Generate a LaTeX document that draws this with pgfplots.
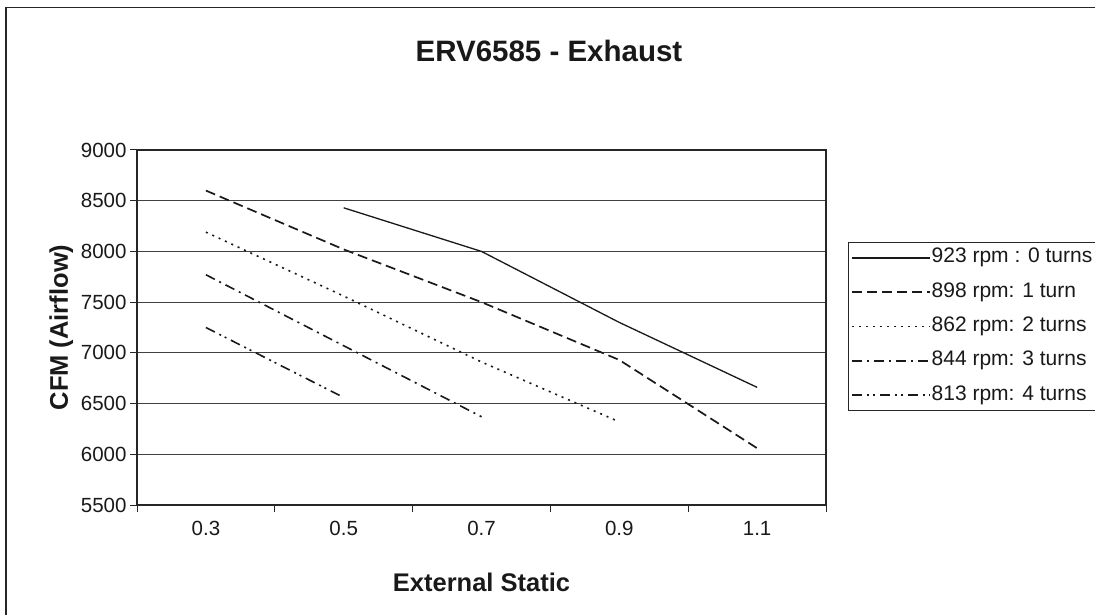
\documentclass[border=0pt]{standalone}
\usepackage{fontspec}
\setmainfont{Liberation Sans}
\usepackage{pgfplots}
\pgfplotsset{compat=1.18}
\begin{document}
\begin{tikzpicture}
\useasboundingbox (0,0) rectangle (1095bp,615bp);
\fill[white] (0,0) rectangle (1095bp,615bp);
\draw[black!85, line width=1.3bp] (6bp,-20bp) rectangle (1120bp,607.5bp);
\begin{axis}[
  at={(137bp,110bp)}, anchor=south west,
  width=689bp, height=355bp, scale only axis,
  xmin=-0.5, xmax=4.5, ymin=5500, ymax=9000,
  xtick={0,1,2,3,4},
  xticklabels={0.3,0.5,0.7,0.9,1.1},
  minor xtick={-0.5,0.5,1.5,2.5,3.5,4.5},
  every major x tick/.append style={draw=none},
  ytick={5500,6000,6500,7000,7500,8000,8500,9000},
  xtick pos=bottom, ytick pos=left,
  scaled y ticks=false,
  /pgf/number format/assume math mode=true,
  /pgf/number format/1000 sep={},
  tick align=outside,
  major tick length=7bp, minor tick length=7bp,
  tick style={black!85, line width=1bp},
  axis line style={black!85, line width=1.5bp},
  ymajorgrids, grid style={black!75, line width=1bp},
  ticklabel style={font=\fontsize{20.5bp}{24bp}\selectfont, text=black!90},
  xticklabel style={yshift=-6bp},
  xlabel={External Static},
  ylabel={CFM (Airflow)},
  label style={font=\bfseries\fontsize{25.5bp}{30bp}\selectfont, text=black!90},
  x label style={at={(axis description cs:0.5,-0.245)}, anchor=base},
  y label style={at={(axis description cs:-0.1002,0.5)}, anchor=base},
  legend style={at={(axis description cs:1.0319,0.7410)}, anchor=north west,
    draw=black!85, fill=white, line width=1bp,
    font=\fontsize{21bp}{25bp}\selectfont, text=black!90,
    inner sep=3bp, row sep=9.3bp, column sep=0bp,
    nodes={inner xsep=0.5bp, inner ysep=3.5bp, text height=14bp, text depth=4bp}},
  legend cell align=left,
  legend image code/.code={\draw[#1] (0bp,0bp) -- (78bp,0bp);},
  clip=false,
]
\addplot[black!90, line width=1.3bp] coordinates {(1,8430)(2,8000)(3,7300)(4,6660)};
\addlegendentry{923 rpm : 0 turns\hspace*{20bp}}
\addplot[black!90, line width=1.7bp, dash pattern=on 10bp off 5bp] coordinates {(0,8600)(1,8020)(2,7500)(3,6930)(4,6060)};
\addlegendentry{898 rpm: 1 turn}
\addplot[black!90, line width=1.6bp, dash pattern=on 2bp off 5bp] coordinates {(0,8190)(1,7560)(2,6910)(3,6320)};
\addlegendentry{862 rpm: 2 turns}
\addplot[black!90, line width=1.6bp, dash pattern=on 10bp off 5bp on 2bp off 5bp] coordinates {(0,7770)(1,7070)(2,6370)};
\addlegendentry{844 rpm: 3 turns}
\addplot[black!90, line width=1.6bp, dash pattern=on 10bp off 5bp on 2bp off 4bp on 2bp off 5bp] coordinates {(0,7250)(1,6560)};
\addlegendentry{813 rpm: 4 turns}
\end{axis}
\node[anchor=base, font=\bfseries\fontsize{29.5bp}{34bp}\selectfont, text=black!90] at (549bp,553bp) {ERV6585 - Exhaust};
\end{tikzpicture}
\end{document}
